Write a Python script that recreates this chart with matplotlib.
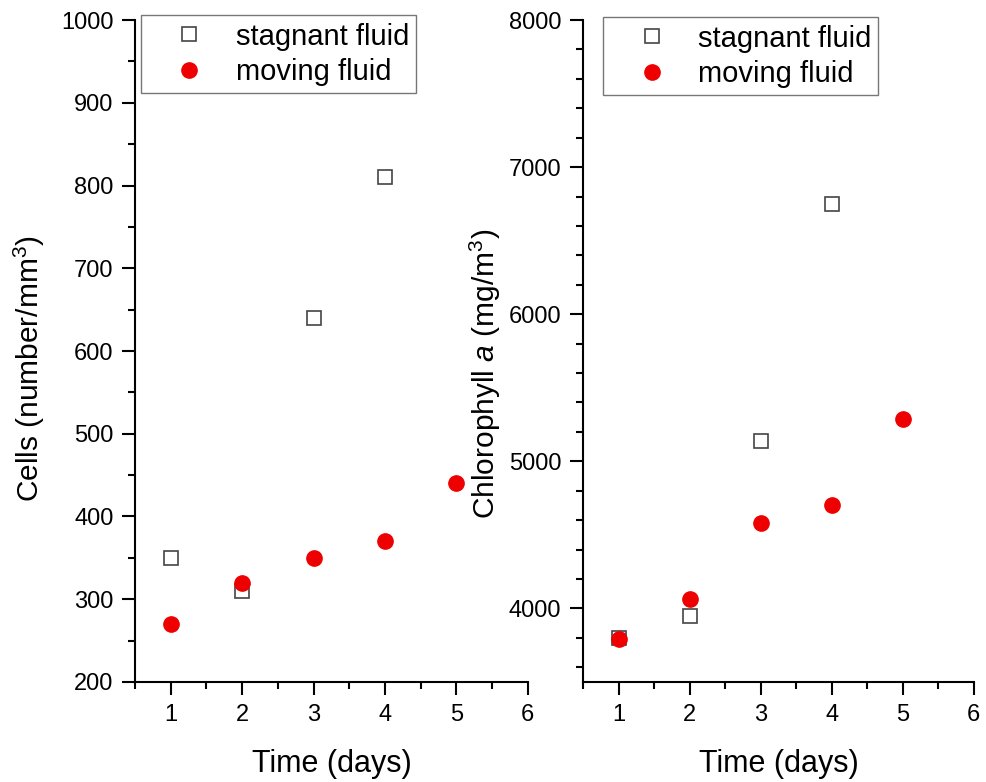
import numpy as np
import matplotlib.pyplot as plt
from matplotlib.ticker import MultipleLocator

plt.rcParams['font.family'] = ['Liberation Sans', 'DejaVu Sans']
plt.rcParams['mathtext.fontset'] = 'custom'
plt.rcParams['mathtext.rm'] = 'Liberation Sans'
plt.rcParams['mathtext.it'] = 'Liberation Sans:italic'

# data
days = [1, 2, 3, 4, 5]
cells_stagnant = [350, 310, 640, 810]
cells_moving = [270, 320, 350, 370, 440]
chl_stagnant = [3800, 3950, 5140, 6750]
chl_moving = [3790, 4065, 4580, 4700, 5285]

fig = plt.figure(figsize=(9.87, 7.82), dpi=100)
ax1 = fig.add_axes([0.1368, 0.1279, 0.398, 0.8465])
ax2 = fig.add_axes([0.5907, 0.1279, 0.396, 0.8465])

red = '#ee0000'

def style(ax):
    for s in ['top', 'right']:
        ax.spines[s].set_visible(False)
    for s in ['left', 'bottom']:
        ax.spines[s].set_linewidth(1.5)
    ax.tick_params(which='major', direction='out', length=9.5, width=1.5, labelsize=17, pad=6)
    ax.tick_params(which='minor', direction='out', length=5, width=1.5)
    ax.set_xlim(0.5, 6)
    ax.xaxis.set_major_locator(MultipleLocator(1))
    ax.xaxis.set_minor_locator(MultipleLocator(0.5))
    ax.set_xlabel('Time (days)', fontsize=22, labelpad=17)

def add_legend(ax, anchor):
    leg = ax.legend(loc='upper left', bbox_to_anchor=anchor, fontsize=21,
                    frameon=True, fancybox=False, borderpad=0.25, handletextpad=0.17,
                    labelspacing=0.25, borderaxespad=0, handlelength=2.83)
    leg.get_frame().set_edgecolor('#555555')
    leg.get_frame().set_linewidth(1.0)

# left panel: cell counts
ax1.plot(days[:4], cells_stagnant, 's', ms=9.5, mfc='white', mec='#444444', mew=1.2,
         label='stagnant fluid')
ax1.plot(days, cells_moving, 'o', ms=11, color=red, label='moving fluid')
style(ax1)
ax1.set_ylim(200, 1000)
ax1.yaxis.set_major_locator(MultipleLocator(100))
ax1.yaxis.set_minor_locator(MultipleLocator(50))
ax1.set_ylabel('Cells (number/mm$^3$)', fontsize=21.5)
ax1.yaxis.set_label_coords(-0.224, 0.473)
add_legend(ax1, (0.015, 1.007))

# right panel: chlorophyll a
ax2.plot(days[:4], chl_stagnant, 's', ms=9.5, mfc='white', mec='#444444', mew=1.2,
         label='stagnant fluid')
ax2.plot(days, chl_moving, 'o', ms=11, color=red, label='moving fluid')
style(ax2)
ax2.set_ylim(3500, 8000)
ax2.yaxis.set_major_locator(MultipleLocator(1000))
ax2.yaxis.set_minor_locator(MultipleLocator(200))
ax2.set_ylabel('Chlorophyll $a$ (mg/m$^3$)', fontsize=21.5)
ax2.yaxis.set_label_coords(-0.205, 0.466)
add_legend(ax2, (0.051, 1.004))

fig.savefig('out.png', dpi=100)
